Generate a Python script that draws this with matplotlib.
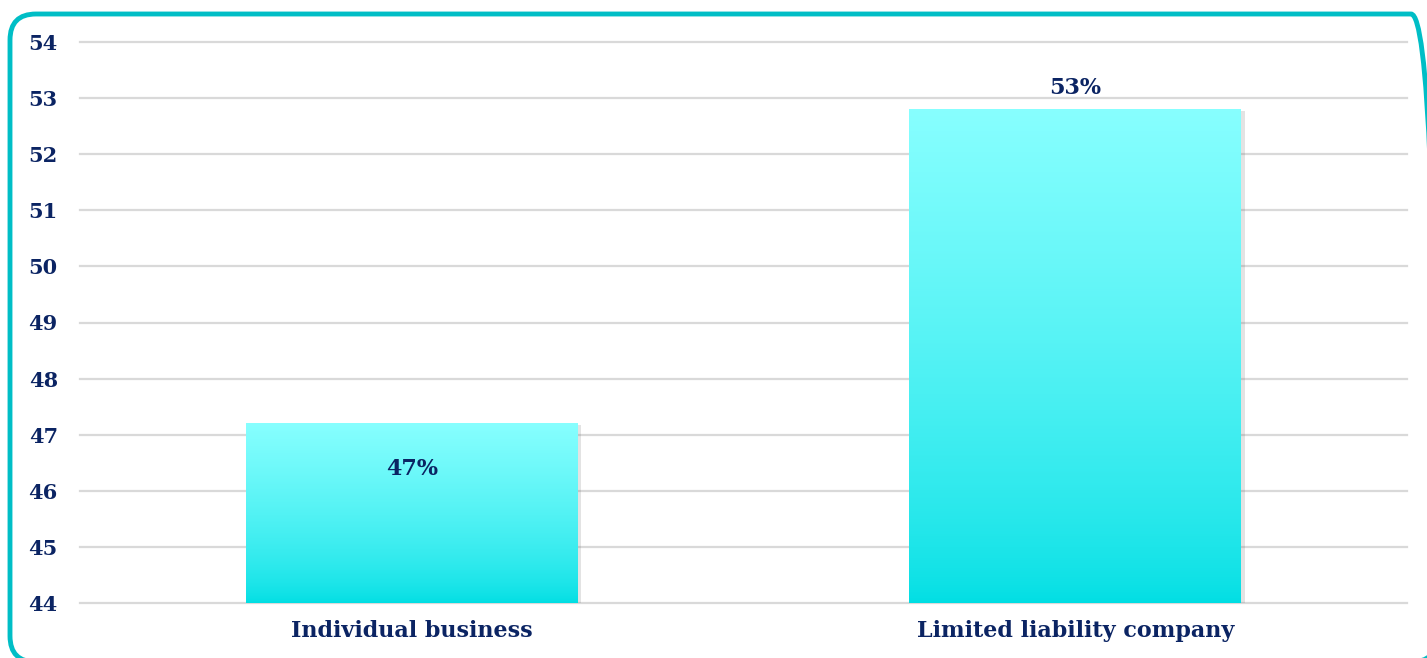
import numpy as np
import matplotlib.pyplot as plt
from matplotlib.patches import FancyBboxPatch
import matplotlib.patheffects as pe

categories = ["Individual business", "Limited liability company"]
shares = [47.2, 52.8]
yticks = list(range(44, 55))

navy = "#0B2463"
font = "DejaVu Serif"
W, H = 1427, 658

fig = plt.figure(figsize=(W / 100, H / 100), dpi=100)
ax = fig.add_axes([80 / W, 1 - 603 / H, 1327 / W, 561 / H])

# rounded teal frame (in inches), running slightly past the right and bottom edges
frame = FancyBboxPatch((0.10, -0.04), 14.27, 6.48,
                       boxstyle="round,pad=0,rounding_size=0.26",
                       transform=fig.dpi_scale_trans, fill=False,
                       edgecolor="#00BEC6", linewidth=3.5, clip_on=False)
fig.patches.append(frame)

x = np.arange(len(categories))
bars = ax.bar(x, [s - 44 for s in shares], bottom=44, width=0.5,
              color="none", edgecolor="none", zorder=2)

# vertical gradient from pale cyan at the top to turquoise at the base
t = np.linspace(0, 1, 256) ** 0.7
top = np.array([0.53, 1.0, 1.0])
bottom = np.array([0.0, 0.87, 0.89])
img = (bottom + (top - bottom) * t[:, None, None]) * np.ones((1, 2, 3))
for b in bars:
    x0, y0 = b.get_x(), b.get_y()
    w, h = b.get_width(), b.get_height()
    shadow = plt.Rectangle((x0, y0), w, h, facecolor="white", edgecolor="none", zorder=2,
                           path_effects=[pe.SimplePatchShadow(offset=(2.5, -1), alpha=0.18,
                                                              shadow_rgbFace="#666666")])
    ax.add_patch(shadow)
    im = ax.imshow(img, extent=[x0, x0 + w, y0, y0 + h], origin="lower",
                   aspect="auto", zorder=3, interpolation="bilinear")
    im.set_clip_path(b)

# value labels: first sits inside the bar, second just above it
offsets = [-33, 15]
for xi, s, off in zip(x, shares, offsets):
    ax.annotate(f"{s:.0f}%", (xi, s), xytext=(0, off), textcoords="offset points",
                ha="center", va="center", fontsize=16, fontweight="bold",
                color=navy, family=font, zorder=4)

ax.set_xlim(-0.5, 1.5)
ax.set_ylim(44, 54)
ax.set_yticks(yticks)
ax.set_xticks(x)
ax.set_xticklabels(categories)
ax.yaxis.grid(True, color="#D9D9D9", linewidth=1.6)
for gl in ax.get_ygridlines():
    gl.set_clip_on(False)
ax.set_axisbelow(True)
for s in ax.spines.values():
    s.set_visible(False)
ax.tick_params(length=0)
ax.tick_params(axis="y", pad=16)
ax.tick_params(axis="x", pad=12)
for lbl in ax.get_yticklabels():
    lbl.set(fontsize=15, fontweight="bold", color=navy, family=font)
for lbl in ax.get_xticklabels():
    lbl.set(fontsize=16, fontweight="bold", color=navy, family=font)

fig.savefig("out.png", dpi=100)
